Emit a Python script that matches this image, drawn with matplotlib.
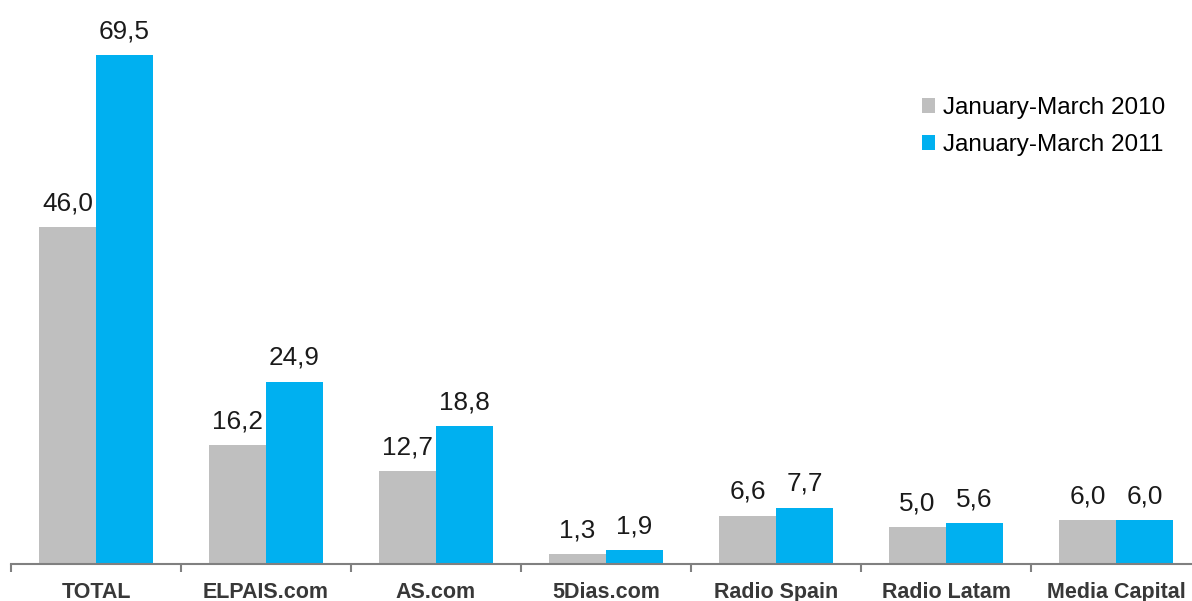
import numpy as np
import matplotlib
matplotlib.use("Agg")
import matplotlib.pyplot as plt

categories = ["TOTAL", "ELPAIS.com", "AS.com", "5Dias.com", "Radio Spain", "Radio Latam", "Media Capital"]
q1_2010 = [46.0, 16.2, 12.7, 1.3, 6.6, 5.0, 6.0]
q1_2011 = [69.5, 24.9, 18.8, 1.9, 7.7, 5.6, 6.0]
series_names = ["January-March 2010", "January-March 2011"]

plt.rcParams["font.family"] = ["Liberation Sans", "DejaVu Sans"]

W, H = 1192, 601
fig = plt.figure(figsize=(W / 100, H / 100), dpi=100)
# category width 170 px, axis starts at x=11, baseline at y=564
ax = fig.add_axes([11 / W, 37 / H, 1190 / W, 549 / H])

x = np.arange(len(categories))
bw = 0.335
b1 = ax.bar(x - bw / 2, q1_2010, bw, color="#BFBFBF", label=series_names[0])
b2 = ax.bar(x + bw / 2, q1_2011, bw, color="#00B0F0", label=series_names[1])

for bars, vals in ((b1, q1_2010), (b2, q1_2011)):
    for r, v in zip(bars, vals):
        ax.annotate(f"{v:.1f}".replace(".", ","),
                    (r.get_x() + r.get_width() / 2, v),
                    xytext=(0, 12.2), textcoords="offset points",
                    ha="center", va="baseline", fontsize=18.8, color="#1a1a1a")

ax.set_xlim(-0.5, len(categories) - 0.5)
ax.set_ylim(0, 75)
ax.set_yticks([])
for s in ("top", "right", "left"):
    ax.spines[s].set_visible(False)
ax.spines["bottom"].set_color("#808080")
ax.spines["bottom"].set_linewidth(1.5)

ax.set_xticks(np.arange(len(categories) + 1) - 0.5)
ax.set_xticklabels([])
ax.tick_params(axis="x", length=6, width=1.5, color="#808080")
ax.set_xticks(x, minor=True)
ax.set_xticklabels(categories, minor=True, fontsize=15.5, fontweight="bold", color="#383838")
ax.tick_params(axis="x", which="minor", length=0, pad=13)

fig.legend(handles=[b1, b2], labels=series_names, loc="upper left",
           bbox_to_anchor=(922 / W, 1 - 97 / H), bbox_transform=fig.transFigure,
           frameon=False, fontsize=17.5, handlelength=0.55, handleheight=0.55,
           handletextpad=0.3, labelspacing=0.62, borderpad=0, borderaxespad=0)

fig.savefig("out.png", dpi=100)
